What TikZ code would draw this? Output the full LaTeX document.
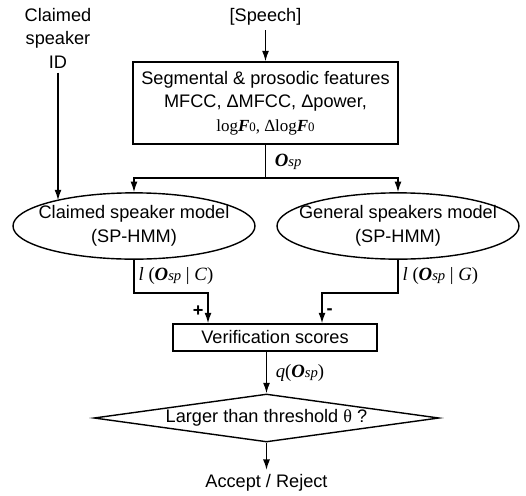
\documentclass[tikz,border=0pt]{standalone}
\usepackage{fontspec}
\setmainfont{Liberation Sans}
\newfontfamily\tms{Liberation Serif}
\usetikzlibrary{shapes.geometric,arrows.meta}

\newcommand{\Osp}{{\bfseries\itshape O}{\itshape\fontsize{12.5}{14}\selectfont sp}}
\newcommand{\logF}{log{\bfseries\itshape F}{\fontsize{11}{13}\selectfont 0}}
\newcommand{\twolines}[2]{\makebox[0pt]{\begin{tabular}{@{}c@{}}#1\\#2\end{tabular}}}

\begin{document}
\begin{tikzpicture}[x=0.03cm,y=-0.03cm,
    font=\fontsize{15.5}{20}\selectfont,
    line width=1.2pt,
    arr/.style={-{Latex[length=9pt,width=6pt]}},
    box/.style={draw,rectangle,align=center,inner sep=0pt},
    model/.style={draw,ellipse,inner sep=0pt,minimum width=7.26cm,minimum height=1.86cm},
    lbl/.style={font=\fontsize{16}{18}\selectfont\tms}]
    %\draw[very thin,color=gray] (0,0) grid[step=50] (526,495);
    \useasboundingbox (0,0) rectangle (526,495);

    \node (cid) [align=center] at (58,38) {Claimed\\speaker\\ID};
    \node (speech) at (265.5,17) {[Speech]};
    \node (feat) [box,minimum width=7.95cm,minimum height=2.46cm] at (265.5,103)
        {Segmental \& prosodic features\\MFCC, ΔMFCC, Δpower,\\{\tms\fontsize{14.5}{20}\selectfont\logF, Δ\logF}};
    \coordinate (split) at (265.5,178);
    \node (claimed) [model] at (134,226) {\twolines{Claimed speaker model}{(SP-HMM)}};
    \node (general) [model] at (398,226) {\twolines{General speakers model}{(SP-HMM)}};
    \coordinate (cturn) at (134,293);
    \coordinate (gturn) at (398,293);
    \coordinate (plus) at (208,293);
    \coordinate (minus) at (322,293);
    \node (verif) [box,minimum width=6.12cm,minimum height=0.81cm] at (275,337.5) {Verification scores};
    \node (decide) [draw,diamond,aspect=7.2,inner sep=0pt,minimum width=10.35cm,minimum height=1.44cm]
        at (266.5,418) {\makebox[0pt]{Larger than threshold {\tms θ} ?}};
    \node (result) at (266.5,483) {Accept / Reject};

    \draw [arr] (cid.south) -- (cid.south |- claimed.162.4);
    \draw [arr] (speech.south) -- (feat.north);
    \draw (feat.south) -- node[right,lbl,xshift=4pt] {\Osp} (split);
    \draw [arr] (split) -| (claimed.north);
    \draw [arr] (split) -| (general.north);
    \draw [arr] (claimed.south) -- node[right,lbl] {\textit{l} (\Osp\ | \textit{C})} (cturn)
        -- (plus) -- node[left,pos=0.6] {\textbf{+}} (plus |- verif.north);
    \draw [arr] (general.south) -- node[right,lbl] {\textit{l} (\Osp\ | \textit{G})} (gturn)
        -- (minus) -- node[right,pos=0.6] {\textbf{-}} (minus |- verif.north);
    \draw [arr] (decide.north |- verif.south) -- node[right,lbl,xshift=4pt] {\textit{q}(\Osp)} (decide.north);
    \draw [arr] (decide.south) -- (result.north);

\end{tikzpicture}
\end{document}
